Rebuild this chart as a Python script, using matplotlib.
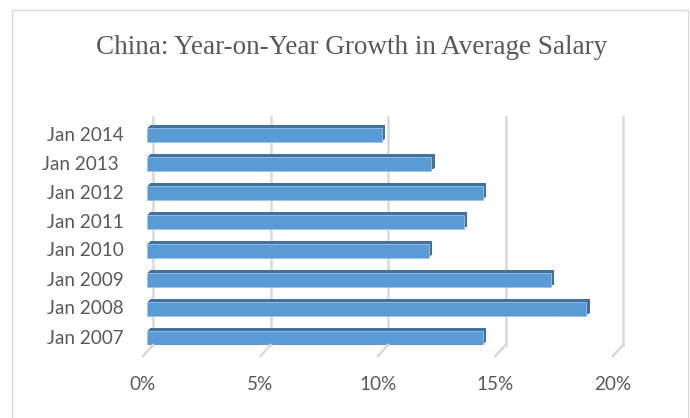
import matplotlib
matplotlib.use("Agg")
import matplotlib.pyplot as plt
import matplotlib.transforms as mtransforms
from matplotlib.patches import Rectangle

categories = ["Jan 2007", "Jan 2008", "Jan 2009", "Jan 2010",
              "Jan 2011", "Jan 2012", "Jan 2013 ", "Jan 2014"]
growth = [14.3, 18.7, 17.2, 12.0, 13.5, 14.3, 12.1, 10.0]
xticks = [0, 5, 10, 15, 20]
xtick_labels = ["0%", "5%", "10%", "15%", "20%"]
title = "China: Year-on-Year Growth in Average Salary"

W, H, DPI = 690, 418, 100
fig = plt.figure(figsize=(W / DPI, H / DPI), dpi=DPI)

# chart border
fig.patches.append(Rectangle((12 / W, -0.05), (688 - 12) / W, (H - 10) / H + 0.05,
                             transform=fig.transFigure, fill=False,
                             edgecolor="#D9D9D9", linewidth=1.0))

# axes: x=0 at 147px, x=20 at 617px; y back floor at 345px, top 117px
left = 147 / W
width = (617 - 147) / W
bottom = (H - 345) / H
height = (345 - 117) / H
ax = fig.add_axes([left, bottom, width, height])
step = 29.0
ax.set_xlim(0, 20)
ax.set_ylim(-(345 - 338) / step, (338 - 117) / step)
for s in ax.spines.values():
    s.set_visible(False)
ax.set_xticks([])
ax.set_yticks([])
ax.patch.set_alpha(0)


def px(dx, dy):
    return mtransforms.ScaledTranslation(dx / DPI, dy / DPI, fig.dpi_scale_trans)


grid_col = "#D9D9D9"
blend = mtransforms.blended_transform_factory(ax.transData, ax.transAxes)
for t in xticks:
    # back wall gridline
    ax.plot([t, t], [0, 1], color=grid_col, lw=1.8,
            transform=blend + px(6, 0), clip_on=False, zorder=1)
    # floor slant line (back -> front)
    base = blend.transform((t, 0))
    inv = fig.transFigure.inverted()
    p0 = inv.transform(base + (6, 0))
    p1 = inv.transform(base + (-4, -11))
    fig.add_artist(plt.Line2D([p0[0], p1[0]], [p0[1], p1[1]], color=grid_col,
                              lw=1.8, transform=fig.transFigure))

# x tick labels
for t, lab in zip(xticks, xtick_labels):
    ax.text(t, 0, lab, transform=blend + px(-4, -40), ha="center", va="center",
            fontsize=13.6, family="Lato", color="#595959")

# bars (3D look)
bh = 14 / step
ypos = list(range(len(categories)))
dark = "#41719C"
for k in range(1, 5):
    ax.barh(ypos, growth, height=bh, left=0, color=dark, edgecolor="none",
            transform=ax.transData + px(k * 0.8, k * 0.8), zorder=2)
ax.barh(ypos, growth, height=bh, left=0, color="#5B9BD5",
        edgecolor="#9DC3E6", linewidth=0.6, zorder=3)

# category labels
for y, lab in zip(ypos, categories):
    ax.text(0, y, lab, transform=ax.transData + px(-23, 0), ha="right", va="center",
            fontsize=13.6, family="Lato", color="#595959")

fig.text(352 / W, (H - 48) / H, title, ha="center", va="center",
         fontsize=19.5, family="Liberation Serif", color="#595959")

fig.savefig("out.png", dpi=DPI)
